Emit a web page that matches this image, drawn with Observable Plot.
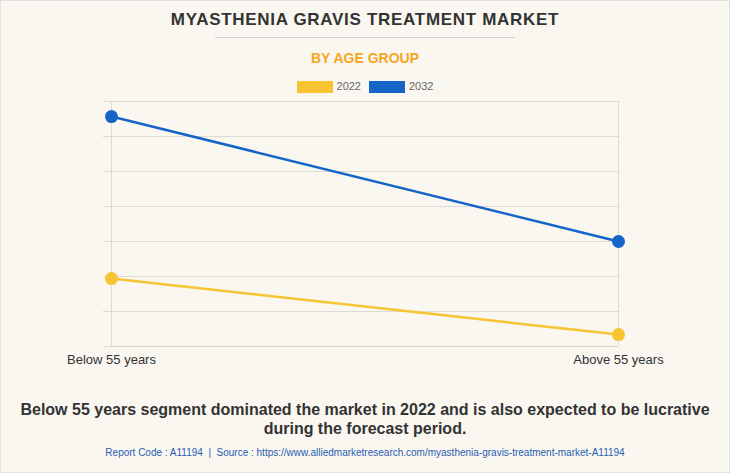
<!DOCTYPE html>
<html><head><meta charset="utf-8">
<script src="https://cdn.jsdelivr.net/npm/d3@7"></script>
<script src="https://cdn.jsdelivr.net/npm/@observablehq/plot@0.6"></script>
<style>
html,body{margin:0;padding:0;}
body{width:730px;height:473px;background:#f9f7f0;position:relative;overflow:hidden;font-family:"Liberation Sans",Arial,sans-serif;}
#frame{position:absolute;left:0;top:0;width:728px;height:471px;border:1px solid #e2e2e2;}
.abs{position:absolute;left:0;width:730px;text-align:center;}
#title{top:10px;font-size:17px;font-weight:bold;color:#333;letter-spacing:0.7px;}
#rule{position:absolute;top:37px;left:215px;width:300px;height:1px;background:#cfcfcf;}
#sub{top:50px;font-size:14px;font-weight:bold;color:#f5a623;}
#legend{top:80px;font-size:11px;color:#666;display:flex;justify-content:center;gap:8px;align-items:center;}
.sw{display:inline-block;width:36px;height:12px;margin-right:4px;vertical-align:middle;}
#chart{position:absolute;left:0;top:90px;}
#cap{top:400px;font-size:16px;font-weight:bold;color:#333;line-height:19px;}
#src{top:447px;font-size:10px;color:#2a5db0;}
</style></head>
<body>
<div id="frame"></div>
<div class="abs" id="title">MYASTHENIA GRAVIS TREATMENT MARKET</div>
<div id="rule"></div>
<div class="abs" id="sub">BY AGE GROUP</div>
<div class="abs" id="legend"></div>
<div id="chart"></div>
<div class="abs" id="cap">Below 55 years segment dominated the market in 2022 and is also expected to be lucrative<br>during the forecast period.</div>
<div class="abs" id="src">Report Code : A11194 &nbsp;|&nbsp; Source : https://www.alliedmarketresearch.com/myasthenia-gravis-treatment-market-A11194</div>
<script>
const categories = ["Below 55 years", "Above 55 years"];
const years = ["2022", "2032"];
const values2022 = [1.94, 0.34];
const values2032 = [6.57, 3.0];
const colors = ["#f6c531", "#1565c8"];
const yTicks = [0, 1, 2, 3, 4, 5, 6, 7];

const data = [];
categories.forEach((c, i) => {
  data.push({category: c, year: years[0], value: values2022[i]});
  data.push({category: c, year: years[1], value: values2032[i]});
});

// legend
const leg = document.getElementById("legend");
years.forEach((y, i) => {
  const s = document.createElement("span");
  s.innerHTML = `<span class="sw" style="background:${colors[i]}"></span>${y}`;
  leg.appendChild(s);
});

const chart = Plot.plot({
  width: 730,
  height: 280,
  marginTop: 11,
  marginBottom: 24,
  marginLeft: 111,
  marginRight: 112,
  style: {background: "transparent", fontFamily: "Liberation Sans, Arial, sans-serif", fontSize: "13px", color: "#333"},
  x: {type: "point", domain: categories, padding: 0, label: null},
  y: {domain: [0, 7], label: null},
  color: {domain: years, range: colors},
  marks: [
    Plot.gridY(yTicks, {stroke: "#dcdad4", strokeOpacity: 1}),
    Plot.gridX(categories, {stroke: "#dcdad4", strokeOpacity: 1}),
    Plot.axisY(yTicks, {tickSize: 8, tickFormat: () => "", stroke: "#dcdad4", label: null}),
    Plot.axisX({tickSize: 0, tickPadding: 8, fontSize: 13, fill: "#333", label: null}),
    Plot.ruleY([0], {stroke: "#d6d4ce"}),
    Plot.line(data, {x: "category", y: "value", z: "year", stroke: "year", strokeWidth: 2.5}),
    Plot.dot(data, {x: "category", y: "value", fill: "year", r: 6.5})
  ]
});
document.getElementById("chart").appendChild(chart);
</script>
</body></html>
